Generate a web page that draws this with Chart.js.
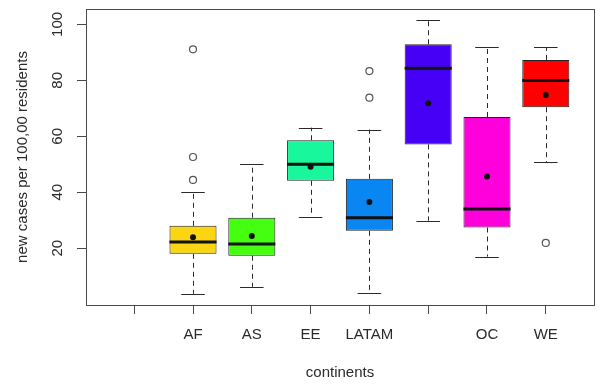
<!DOCTYPE html>
<html>
<head>
<meta charset="utf-8">
<script src="https://cdn.jsdelivr.net/npm/chart.js@4/dist/chart.umd.min.js"></script>
<style>
  html, body { margin: 0; padding: 0; background: #fff; }
  #wrap { width: 608px; height: 384px; }
</style>
</head>
<body>
<div id="wrap"><canvas id="myChart"></canvas></div>
<script>
// categories (first one and the sixth have no label in the picture)
const categories = ['', 'AF', 'AS', 'EE', 'LATAM', '', 'OC', 'WE'];
const q1 = [null, 18.0, 17.3, 44.1, 26.2, 57.1, 27.4, 70.4];
const q3 = [null, 28.0, 30.9, 58.6, 44.8, 92.9, 66.9, 87.3];
const medians = [null, 22.2, 21.5, 50.0, 30.9, 84.3, 34.0, 79.9];
const means = [null, 23.9, 24.4, 49.1, 36.5, 71.8, 45.6, 74.8];
const whiskerLow = [null, 3.7, 6.2, 31.3, 4.0, 29.8, 17.0, 50.8];
const whiskerHigh = [null, 40.0, 50.1, 63.1, 62.4, 101.4, 91.9, 91.9];
const outliers = [[], [44.4, 52.6, 91.1], [], [], [73.8, 83.3], [], [], [21.9]];
const yTicks = [20, 40, 60, 80, 100];

const boxColors = ['#ffffff', '#fcd512', '#45ff10', '#18f79c', '#0a86f2', '#4600f5', '#ff00dc', '#ff0000'];

const idx = categories.map((c, i) => i).filter(i => q1[i] !== null);

const boxData = idx.map(i => ({ x: i, y: [q1[i], q3[i]] }));
const meanData = idx.map(i => ({ x: i, y: means[i] }));
const outlierData = [];
outliers.forEach((list, i) => list.forEach(v => outlierData.push({ x: i, y: v })));

const FONT = 'Liberation Sans, Arial, sans-serif';
const INK = '#2a2a2a';

const boxExtras = {
    id: 'boxExtras',
    afterDatasetDraw(chart, args) {
        if (args.meta.type !== 'bar') return;
        const ctx = chart.ctx;
        const x = chart.scales.x;
        const y = chart.scales.y;
        ctx.save();
        args.meta.data.forEach((bar, k) => {
            const i = idx[k];
            const cx = x.getPixelForValue(i);
            const w = bar.width;
            const cap = w / 2;
            // whiskers
            ctx.strokeStyle = INK;
            ctx.lineWidth = 1;
            ctx.setLineDash([5, 4]);
            ctx.beginPath();
            ctx.moveTo(Math.round(cx) + 0.5, y.getPixelForValue(q3[i]));
            ctx.lineTo(Math.round(cx) + 0.5, y.getPixelForValue(whiskerHigh[i]));
            ctx.moveTo(Math.round(cx) + 0.5, y.getPixelForValue(q1[i]));
            ctx.lineTo(Math.round(cx) + 0.5, y.getPixelForValue(whiskerLow[i]));
            ctx.stroke();
            ctx.setLineDash([]);
            // caps
            ctx.beginPath();
            [whiskerHigh[i], whiskerLow[i]].forEach(v => {
                const py = Math.round(y.getPixelForValue(v)) + 0.5;
                ctx.moveTo(cx - cap / 2, py);
                ctx.lineTo(cx + cap / 2, py);
            });
            ctx.stroke();
            // median
            ctx.lineWidth = 3;
            ctx.strokeStyle = '#111';
            ctx.beginPath();
            const my = y.getPixelForValue(medians[i]);
            ctx.moveTo(cx - w / 2, my);
            ctx.lineTo(cx + w / 2, my);
            ctx.stroke();
        });
        ctx.restore();
    },
    afterDraw(chart) {
        const ctx = chart.ctx;
        const a = chart.chartArea;
        const y = chart.scales.y;
        ctx.save();
        // plot frame
        ctx.strokeStyle = '#4a4a4a';
        ctx.lineWidth = 1;
        ctx.strokeRect(Math.round(a.left) + 0.5, Math.round(a.top) + 0.5,
            Math.round(a.right - a.left), Math.round(a.bottom - a.top));
        // rotated y tick labels
        ctx.fillStyle = INK;
        ctx.font = '15px ' + FONT;
        ctx.textAlign = 'center';
        ctx.textBaseline = 'middle';
        yTicks.forEach(v => {
            ctx.save();
            ctx.translate(58, y.getPixelForValue(v));
            ctx.rotate(-Math.PI / 2);
            ctx.fillText(String(v), 0, 0);
            ctx.restore();
        });
        ctx.restore();
    }
};

new Chart(document.getElementById('myChart'), {
    type: 'bar',
    data: {
        datasets: [{
            type: 'scatter',
            data: meanData,
            order: 0,
            pointRadius: 3,
            pointBackgroundColor: '#111',
            pointBorderColor: '#111',
            pointBorderWidth: 0
        }, {
            type: 'scatter',
            data: outlierData,
            order: 1,
            pointRadius: 3.5,
            pointBackgroundColor: '#fff',
            pointBorderColor: '#555',
            pointBorderWidth: 1.2
        }, {
            type: 'bar',
            data: boxData,
            order: 2,
            backgroundColor: idx.map(i => boxColors[i]),
            borderColor: '#222',
            borderWidth: 1,
            borderSkipped: false,
            barPercentage: 0.8,
            categoryPercentage: 1
        }]
    },
    options: {
        responsive: true,
        maintainAspectRatio: false,
        animation: false,
        layout: { padding: { left: 0, right: 14, top: 9, bottom: 0 } },
        scales: {
            x: {
                type: 'linear',
                min: -0.82,
                max: 7.82,
                offset: false,
                afterBuildTicks: s => { s.ticks = categories.map((c, i) => ({ value: i })); },
                afterFit: s => { s.height = 79; },
                border: { display: false },
                grid: {
                    offset: false,
                    drawOnChartArea: false,
                    drawTicks: true,
                    tickLength: 9,
                    color: '#4a4a4a'
                },
                ticks: {
                    autoSkip: false,
                    maxRotation: 0,
                    padding: 12,
                    color: INK,
                    font: { family: FONT, size: 15 },
                    callback: v => categories[v]
                },
                title: {
                    display: true,
                    text: 'continents',
                    color: INK,
                    font: { family: FONT, size: 15 },
                    padding: { top: 0, bottom: 2 }
                }
            },
            y: {
                min: -0.3,
                max: 105.5,
                afterBuildTicks: s => { s.ticks = yTicks.map(v => ({ value: v })); },
                afterFit: s => { s.width = 86; },
                border: { display: false },
                grid: {
                    drawOnChartArea: false,
                    drawTicks: true,
                    tickLength: 9,
                    color: '#4a4a4a'
                },
                ticks: { display: false },
                title: {
                    display: true,
                    text: 'new cases per 100,00 residents',
                    color: INK,
                    font: { family: FONT, size: 15 },
                    padding: { top: 14, bottom: 0 }
                }
            }
        },
        plugins: {
            legend: { display: false },
            tooltip: { enabled: false }
        }
    },
    plugins: [boxExtras]
});
</script>
</body>
</html>
